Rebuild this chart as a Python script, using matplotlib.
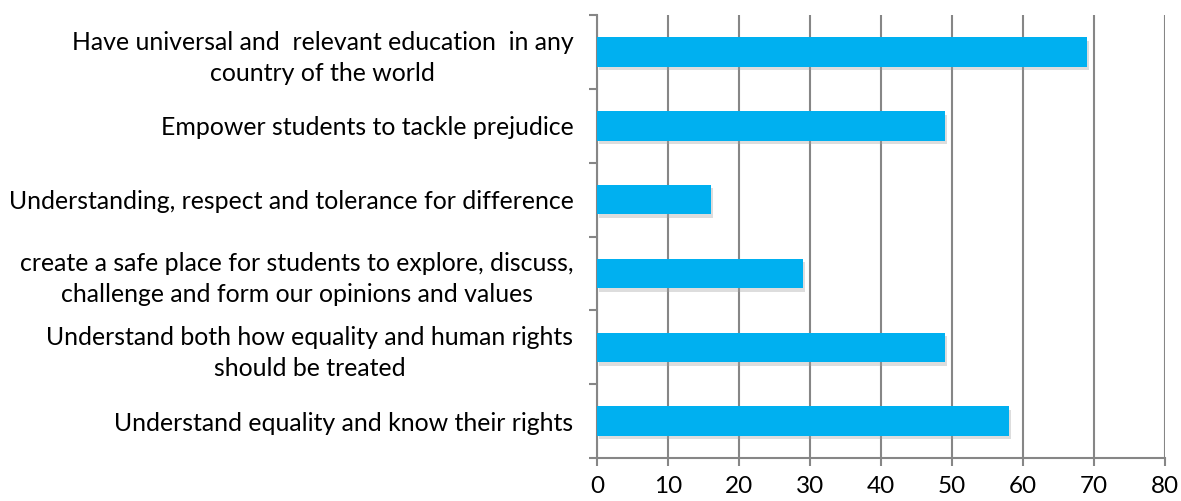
import matplotlib
matplotlib.use("Agg")
import matplotlib.pyplot as plt
import matplotlib.patheffects as pe
from matplotlib.ticker import FixedLocator, NullFormatter

categories = [
    "Understand equality and know their rights",
    "Understand both how equality and human rights\nshould be treated",
    "create a safe place for students to explore, discuss,\nchallenge and form our opinions and values",
    "Understanding, respect and tolerance for difference",
    "Empower students to tackle prejudice",
    "Have universal and  relevant education  in any\ncountry of the world",
]
values = [58, 49, 29, 16, 49, 69]
x_ticks = [0, 10, 20, 30, 40, 50, 60, 70, 80]

plt.rcParams["font.family"] = ["Lato", "DejaVu Sans"]

fig = plt.figure(figsize=(11.81, 5.01), dpi=100)
ax = fig.add_axes([0.5055, 0.0858, 0.481, 0.884])

grey = "#868686"
bar_color = "#00B0F0"

ypos = list(range(len(categories)))
bars = ax.barh(ypos, values, height=0.4, color=bar_color, zorder=3)
for b in bars:
    b.set_path_effects([pe.SimplePatchShadow(offset=(1.5, -2.5), shadow_rgbFace="#a0a0a0", alpha=0.35),
                        pe.Normal()])

ax.set_xlim(0, 80)
ax.set_ylim(-0.5, len(categories) - 0.5)
ax.xaxis.set_major_locator(FixedLocator(x_ticks))
ax.set_xticklabels([str(t) for t in x_ticks], fontsize=17.5)
ax.grid(axis="x", color=grey, linewidth=1.5, zorder=0)

ax.set_yticks(ypos)
ax.set_yticklabels(categories, fontsize=17.9, multialignment="center", linespacing=1.4)
ax.tick_params(axis="y", which="major", length=0, pad=17)
ax.yaxis.set_minor_locator(FixedLocator([i - 0.5 for i in range(len(categories) + 1)]))
ax.yaxis.set_minor_formatter(NullFormatter())
ax.tick_params(axis="y", which="minor", length=6, width=1.5, color=grey)
ax.tick_params(axis="x", which="major", length=6, width=1.5, color=grey, pad=7)

for side in ("top", "right"):
    ax.spines[side].set_visible(False)
ax.spines["left"].set_color(grey)
ax.spines["left"].set_linewidth(1.5)
ax.spines["bottom"].set_color(grey)
ax.spines["bottom"].set_linewidth(1.5)

fig.savefig("out.png", dpi=100)
